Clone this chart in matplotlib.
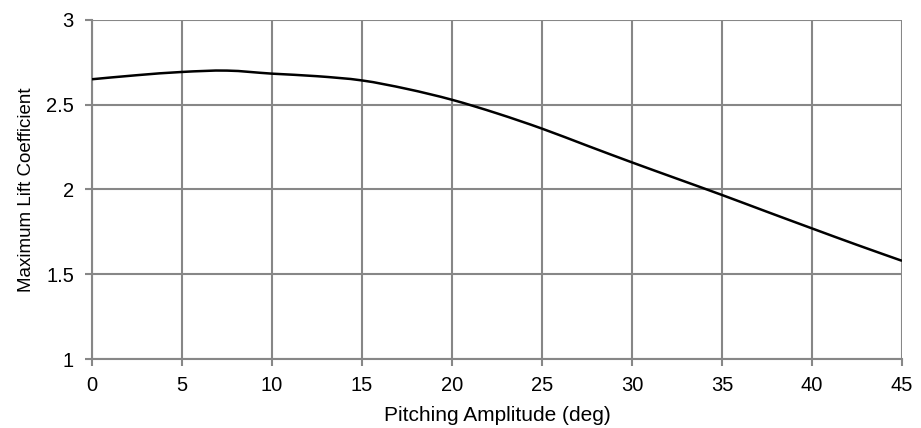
import matplotlib
matplotlib.use("Agg")
import matplotlib.pyplot as plt
import numpy as np
from matplotlib.path import Path
from matplotlib.patches import PathPatch

# pitching amplitude (deg) and max lift coefficient
amplitude = [0, 2.5, 5, 7.5, 10, 12.5, 15, 17.5, 20, 22.5, 25, 27.5, 30,
             32.5, 35, 37.5, 40, 42.5, 45]
cl_max = [2.649, 2.673, 2.692, 2.700, 2.682, 2.667, 2.642, 2.592, 2.528,
          2.448, 2.358, 2.258, 2.159, 2.063, 1.967, 1.868, 1.770, 1.673, 1.579]

x_ticks = list(range(0, 50, 5))
y_ticks = [1, 1.5, 2, 2.5, 3]
y_tick_labels = ["1", "1.5", "2", "2.5", "3"]


def smooth_path(xs, ys):
    # Excel-style smoothed line: cubic Bezier through each point
    pts = np.column_stack([xs, ys])
    n = len(pts)
    verts = [pts[0]]
    codes = [Path.MOVETO]
    for i in range(n - 1):
        p0 = pts[max(i - 1, 0)]
        p1 = pts[i]
        p2 = pts[i + 1]
        p3 = pts[min(i + 2, n - 1)]
        c1 = p1 + (p2 - p0) / 6
        c2 = p2 - (p3 - p1) / 6
        verts += [c1, c2, p2]
        codes += [Path.CURVE4] * 3
    return Path(verts, codes)


plt.rcParams["font.family"] = ["Liberation Sans", "DejaVu Sans"]

fig = plt.figure(figsize=(9.21, 4.28), dpi=100)
ax = fig.add_axes([0.0999, 0.161, 0.8795, 0.793])

grid_col = "#878787"
line = PathPatch(smooth_path(amplitude, cl_max), facecolor="none",
                 edgecolor="black", linewidth=1.8, zorder=3)
ax.add_patch(line)

ax.set_xlim(0, 45)
ax.set_ylim(1, 3)
ax.set_xticks(x_ticks)
ax.set_yticks(y_ticks)
ax.set_yticklabels(y_tick_labels)
ax.grid(True, color=grid_col, linewidth=1.5)
ax.set_axisbelow(True)

for side in ["top", "right"]:
    ax.spines[side].set_visible(False)
for side in ["left", "bottom"]:
    ax.spines[side].set_color(grid_col)
    ax.spines[side].set_linewidth(1.5)

ax.tick_params(axis="both", colors=grid_col, length=5, width=1.5,
               labelsize=14.5, labelcolor="black")
ax.tick_params(axis="y", pad=8)
ax.tick_params(axis="x", pad=7)
ax.set_xlabel("Pitching Amplitude (deg)", fontsize=15, labelpad=8)
ax.set_ylabel("Maximum Lift Coefficient", fontsize=13.5, labelpad=8)

fig.savefig("out.png", dpi=100)
